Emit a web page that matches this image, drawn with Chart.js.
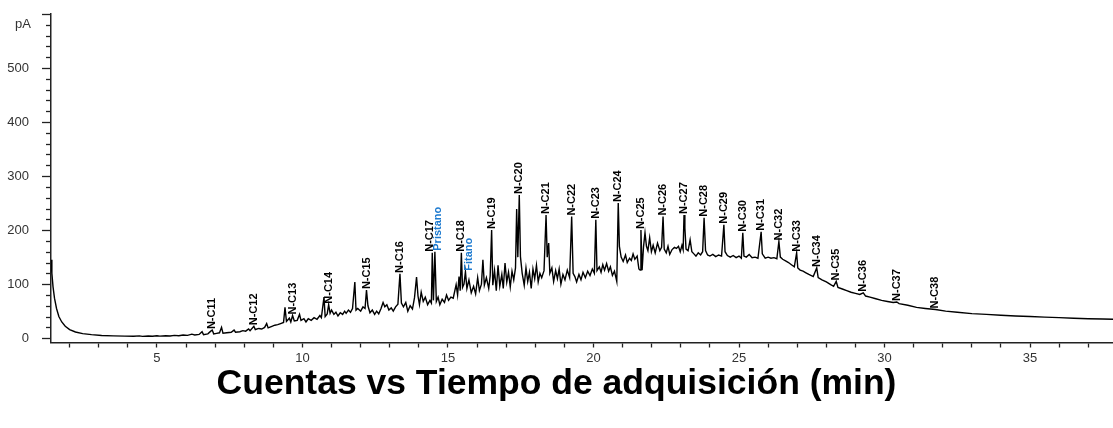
<!DOCTYPE html>
<html>
<head>
<meta charset="utf-8">
<script src="https://cdn.jsdelivr.net/npm/chart.js@4"></script>
<style>
html,body{margin:0;padding:0;background:#fff;}
#wrap{width:1113px;height:428px;position:relative;}
</style>
</head>
<body>
<div id="wrap"><canvas id="c" width="1113" height="428"></canvas></div>
<script>
// ---- Data ----
const retentionTime = [
  1.36,1.39,1.43,1.48,1.55,1.63,1.73,1.85,2.0,2.2,2.45,2.75,3.1,3.5,3.9,4.2,4.4,4.5,4.7,4.85,
  5.0,5.1,5.3,5.45,5.6,5.75,5.9,6.05,6.2,6.3,6.45,6.55,6.6,6.75,6.85,6.9,6.95,7.05,7.15,7.22,
  7.27,7.4,7.55,7.65,7.7,7.85,7.95,8.05,8.15,8.2,8.33,8.38,8.5,8.6,8.7,8.77,8.82,8.95,9.05,9.15,
  9.25,9.35,9.4,9.45,9.55,9.6,9.66,9.72,9.82,9.9,9.95,10.05,10.12,10.2,10.3,10.4,10.5,10.6,10.65,10.74,
  10.78,10.85,10.9,10.95,11.0,11.08,11.15,11.22,11.3,11.38,11.45,11.5,11.58,11.65,11.72,11.8,11.84,11.9,12.0,12.08,
  12.15,12.2,12.25,12.32,12.4,12.48,12.55,12.62,12.7,12.77,12.83,12.9,12.97,13.05,13.12,13.2,13.28,13.35,13.4,13.47,
  13.55,13.62,13.7,13.78,13.85,13.92,13.97,14.02,14.08,14.15,14.22,14.3,14.38,14.43,14.46,14.5,14.55,14.6,14.66,14.72,
  14.8,14.88,14.95,15.02,15.1,15.18,15.28,15.33,15.38,15.42,15.46,15.5,15.55,15.6,15.65,15.72,15.8,15.88,15.95,16.02,
  16.08,16.15,16.2,16.25,16.32,16.4,16.45,16.5,16.54,16.6,16.66,16.72,16.78,16.85,16.9,16.96,17.02,17.08,17.14,17.2,
  17.26,17.32,17.36,17.4,17.45,17.49,17.55,17.62,17.68,17.74,17.8,17.86,17.92,17.98,18.04,18.1,18.16,18.22,18.3,18.37,
  18.41,18.46,18.5,18.57,18.63,18.7,18.76,18.82,18.88,18.95,19.02,19.1,19.18,19.25,19.3,19.36,19.42,19.5,19.57,19.64,
  19.72,19.8,19.88,19.96,20.03,20.08,20.12,20.2,20.26,20.32,20.38,20.45,20.52,20.58,20.65,20.72,20.8,20.85,20.89,20.95,
  21.02,21.1,21.16,21.24,21.3,21.36,21.42,21.5,21.56,21.6,21.63,21.67,21.72,21.77,21.82,21.87,21.93,21.99,22.05,22.12,
  22.2,22.28,22.34,22.39,22.43,22.5,22.56,22.62,22.7,22.78,22.85,22.92,22.98,23.04,23.08,23.11,23.14,23.18,23.25,23.32,
  23.38,23.45,23.52,23.6,23.68,23.75,23.8,23.85,23.92,24.0,24.1,24.2,24.3,24.4,24.48,24.52,24.6,24.7,24.8,24.9,
  25.0,25.08,25.13,25.17,25.25,25.35,25.45,25.55,25.65,25.76,25.8,25.9,26.0,26.1,26.2,26.3,26.37,26.42,26.5,26.6,
  26.7,26.8,26.9,26.98,27.02,27.1,27.2,27.3,27.4,27.55,27.67,27.72,27.85,28.0,28.15,28.25,28.34,28.4,28.55,28.7,
  28.85,29.0,29.15,29.27,29.35,29.5,29.7,29.9,30.1,30.3,30.42,30.5,30.8,31.1,31.4,31.75,32.1,32.5,33.0,33.5,
  34.0,34.5,35.0,35.5,36.0,36.5,37.0,37.5,37.85
];
const signalPA = [
  145,120,95,74,55,40,30,22,16,11.5,8.5,6.5,5,4.2,3.8,3.5,4.2,3.4,4.0,3.6,
  4.5,3.8,4.5,4.0,5.2,4.6,5.8,5.2,7.5,6,7,12,6.5,8,13,15,8,9,10,20,
  9,10,11,15,11,12,14,13,17,14,22,16,18,17,20,27,19,22,24,25,
  27,29,57,31,37,30,42,32,33,44,33,36,30,36,33,38,35,42,38,76,
  40,45,62,46,52,44,48,41,47,44,50,46,52,48,55,104,52,55,50,58,
  55,89,60,47,52,44,50,45,55,66,58,62,52,56,50,58,63,119,65,58,
  66,50,60,54,75,113,78,62,85,68,76,62,70,65,158,70,160,68,76,62,
  72,66,80,70,76,74,99,80,114,88,158,94,100,123,92,108,84,96,82,112,
  88,100,145,98,112,92,115,200,98,125,88,135,96,118,92,139,104,122,95,124,
  108,130,239,150,265,151,120,98,130,105,122,92,128,110,135,104,120,112,125,228,
  150,176,120,130,105,125,110,128,100,118,108,126,112,225,120,114,104,118,108,122,
  112,124,116,128,120,219,125,132,122,136,126,138,124,132,116,124,105,250,170,150,
  142,154,140,148,144,156,146,152,128,126,200,126,170,195,170,162,186,160,172,158,
  176,162,168,225,165,158,170,155,164,168,166,170,160,172,164,228,204,165,162,182,
  160,156,152,158,154,160,223,162,154,152,155,151,154,152,210,160,153,150,153,149,
  152,148,195,152,150,155,149,150,148,197,156,148,150,148,149,147,179,150,146,143,
  140,136,132,158,130,126,124,121,118,114,130,112,108,104,99,96,105,94,91,88,
  85,83,81,84,78,76,73,70,68,66,67,64,61,57,55,53,50,48,45.5,44,
  42.5,41,40,39,38,37,36,35.5,35
];
// Annotated peaks
const peakNames = ['N-C11','N-C12','N-C13','N-C14','N-C15','N-C16','N-C17','Pristano','N-C18','Fitano',
  'N-C19','N-C20','N-C21','N-C22','N-C23','N-C24','N-C25','N-C26','N-C27','N-C28','N-C29','N-C30',
  'N-C31','N-C32','N-C33','N-C34','N-C35','N-C36','N-C37','N-C38'];
const peakTimes = [6.9,8.33,9.66,10.9,12.2,13.35,14.46,14.55,15.46,15.6,
  16.5,17.45,18.37,19.25,20.08,20.85,21.63,22.39,23.11,23.8,24.48,25.13,
  25.76,26.37,26.98,27.67,28.34,29.27,30.42,31.75];
const peakHeights = [15,22,42,62,89,119,158,160,158,123,
  200,265,228,225,219,250,200,225,228,223,210,195,
  197,179,158,130,105,84,67,53];
const isomerPeaks = ['Pristano','Fitano'];
const xTickValues = [2,3,4,5,6,7,8,9,10,11,12,13,14,15,16,17,18,19,20,21,22,23,24,25,26,27,28,29,30,31,32,33,34,35,36,37];
const yTickValues = [0,20,40,60,80,100,120,140,160,180,200,220,240,260,280,300,320,340,360,380,400,420,440,460,480,500,520,540,560,580,600];
const yUnit = 'pA';
const chartTitle = 'Cuentas vs Tiempo de adquisición (min)';

// ---- Build chart ----
const FONT = "'Liberation Sans', Arial, Helvetica, sans-serif";
const points = retentionTime.map((t, i) => ({x: t, y: signalPA[i]}));
const labelShift = {'N-C17': -2, 'Pristano': 3, 'N-C18': 0, 'Fitano': 4};

const decor = {
  id: 'decor',
  afterDraw(chart) {
    const ctx = chart.ctx;
    const xs = chart.scales.x, ys = chart.scales.y;
    const left = chart.chartArea.left;
    ctx.save();
    // y tick marks (major longer)
    ctx.strokeStyle = '#222';
    ctx.lineWidth = 1.3;
    yTickValues.forEach(v => {
      const py = Math.round(ys.getPixelForValue(v)) + 0.5;
      const len = (v % 100 === 0) ? 9 : 5;
      ctx.beginPath();
      ctx.moveTo(left - len, py);
      ctx.lineTo(left, py);
      ctx.stroke();
    });
    // unit
    ctx.fillStyle = '#333';
    ctx.font = '13px ' + FONT;
    ctx.textAlign = 'center';
    ctx.textBaseline = 'middle';
    ctx.fillText(yUnit, 23, 24);
    // peak labels
    ctx.font = 'bold 11px ' + FONT;
    ctx.textAlign = 'left';
    ctx.textBaseline = 'middle';
    peakNames.forEach((name, i) => {
      const px = xs.getPixelForValue(peakTimes[i]) + (labelShift[name] || 0);
      const py = ys.getPixelForValue(peakHeights[i]) - 1;
      ctx.save();
      ctx.translate(px, py);
      ctx.rotate(-Math.PI / 2);
      ctx.fillStyle = isomerPeaks.includes(name) ? '#1b79cf' : '#000';
      ctx.fillText(name, 0, 0);
      ctx.restore();
    });
    // title
    ctx.fillStyle = '#000';
    ctx.font = 'bold 35.5px ' + FONT;
    ctx.textAlign = 'center';
    ctx.textBaseline = 'middle';
    ctx.fillText(chartTitle, 556.5, 384);
    ctx.restore();
  }
};

new Chart(document.getElementById('c'), {
  type: 'line',
  data: {
    datasets: [{
      data: points,
      borderColor: '#000',
      borderWidth: 1.4,
      pointRadius: 0,
      tension: 0,
      fill: false
    }]
  },
  options: {
    responsive: false,
    animation: false,
    devicePixelRatio: 1,
    layout: {padding: {top: 14, right: 0, bottom: 0, left: 0}},
    plugins: {legend: {display: false}, tooltip: {enabled: false}, title: {display: false}},
    scales: {
      x: {
        type: 'linear',
        min: 1.36,
        max: 37.85,
        afterBuildTicks: s => { s.ticks = xTickValues.map(v => ({value: v})); },
        afterFit: s => { s.height = 85.5; s.paddingLeft = 0; s.paddingRight = 0; },
        ticks: {
          autoSkip: false,
          maxRotation: 0,
          padding: 3,
          color: '#333',
          font: {family: FONT, size: 13},
          callback: v => (v % 5 === 0 ? String(v) : '')
        },
        grid: {display: true, drawOnChartArea: false, drawTicks: true, tickLength: 5, tickColor: '#222', tickWidth: 1.3},
        border: {display: true, color: '#222', width: 1.5}
      },
      y: {
        type: 'linear',
        min: -8,
        max: 600,
        afterBuildTicks: s => { s.ticks = yTickValues.map(v => ({value: v})); },
        afterFit: s => { s.width = 51; s.paddingTop = 0; s.paddingBottom = 0; },
        ticks: {
          autoSkip: false,
          padding: 22,
          color: '#333',
          font: {family: FONT, size: 13},
          callback: v => (v % 100 === 0 && v < 600 ? String(v) : '')
        },
        grid: {display: true, drawOnChartArea: false, drawTicks: false},
        border: {display: true, color: '#222', width: 1.5}
      }
    }
  },
  plugins: [decor]
});
</script>
</body>
</html>
